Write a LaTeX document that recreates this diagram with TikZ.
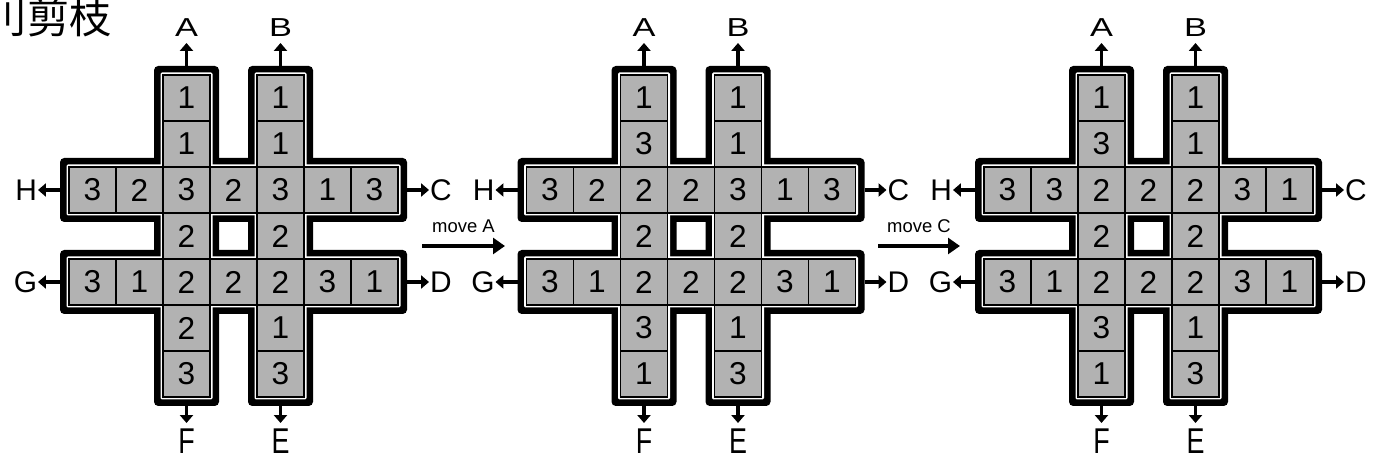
\documentclass[tikz,border=0pt]{standalone}
\usepackage{fontspec}
\setmainfont{Liberation Sans}
\setsansfont{Liberation Sans}
\newfontfamily\cjk{Noto Sans CJK SC}
\usetikzlibrary{arrows.meta, positioning}

\begin{document}
\begin{tikzpicture}[
    x=0.02cm, y=-0.02cm,
    font=\sffamily,
    stripblack/.style={fill=black, rounded corners=2.4pt},
    stripwhite/.style={fill=white, rounded corners=0.8pt},
    cellbox/.style={
        rectangle, draw=black, line width=0.6pt, fill=black!30,
        minimum width=0.94cm, minimum height=0.92cm,
        inner sep=0pt, font=\sffamily\fontsize{18}{18}\selectfont
    },
    exitlab/.style={inner sep=0pt, outer sep=0pt, font=\sffamily\fontsize{17}{17}\selectfont},
    movelab/.style={inner sep=0pt, font=\sffamily\fontsize{10.5}{10.5}\selectfont},
    exitarrow/.style={-{Triangle[length=4.5pt, width=7.4pt]}, line width=2pt, shorten >=0.12cm},
    sidearrow/.style={exitarrow, shorten >=0.02cm},
    movearrow/.style={-{Triangle[length=6.8pt, width=9pt]}, line width=2.2pt}
]
\useasboundingbox (0,0) rectangle (1373,465);

\node (title) [anchor=west, inner sep=0pt, font=\cjk\fontsize{24}{24}\selectfont] at (2,17) {\makebox[0.6em][r]{刂}剪枝};

% three boards: left x / number / row H / row G / column A / column B
\foreach \bx/\bn/\hrow/\grow/\acol/\bcol in {69/1/{3,2,3,2,3,1,3}/{3,1,2,2,2,3,1}/{0/1,1/1,3/2,5/2,6/3}/{0/1,1/1,3/2,5/1,6/3},
    526.5/2/{3,2,2,2,3,1,3}/{3,1,2,2,2,3,1}/{0/1,1/3,3/2,5/3,6/1}/{0/1,1/1,3/2,5/1,6/3},
    984/3/{3,3,2,2,2,3,1}/{3,1,2,2,2,3,1}/{0/1,1/3,3/2,5/3,6/1}/{0/1,1/1,3/2,5/1,6/3}}{
\begin{scope}[shift={(\bx,75)}]
    % thick black band, then the thin white line
    \foreach \xa/\ya/\xb/\yb in {0/92/329/138, 0/184/329/230, 94/0/141/322, 188/0/235/322}
        \fill[stripblack] (\xa-9,\ya-9) rectangle (\xb+9,\yb+9);
    \foreach \xa/\ya/\xb/\yb in {0/92/329/138, 0/184/329/230, 94/0/141/322, 188/0/235/322}
        \fill[stripwhite] (\xa-2.5,\ya-2.5) rectangle (\xb+2.5,\yb+2.5);
    % cells
    \foreach \v [count=\c from 0] in \hrow
        \node (b\bn-2-\c) [cellbox] at (47*\c+23.5,115) {\v};
    \foreach \v [count=\c from 0] in \grow
        \node (b\bn-4-\c) [cellbox] at (47*\c+23.5,207) {\v};
    \foreach \r/\v in \acol
        \node (b\bn-\r-2) [cellbox] at (117.5,46*\r+23) {\v};
    \foreach \r/\v in \bcol
        \node (b\bn-\r-4) [cellbox] at (211.5,46*\r+23) {\v};
    % exits
    \coordinate (b\bn-An) at (117.5,-9);
    \coordinate (b\bn-Bn) at (211.5,-9);
    \coordinate (b\bn-Ce) at (338,115);
    \coordinate (b\bn-De) at (338,207);
    \coordinate (b\bn-Es) at (211.5,331);
    \coordinate (b\bn-Fs) at (117.5,331);
    \coordinate (b\bn-Gw) at (-9,207);
    \coordinate (b\bn-Hw) at (-9,115);
    \node (b\bn-A) [exitlab, above=0.58cm of b\bn-An] {\scalebox{1.15}[.87]{A}};
    \node (b\bn-B) [exitlab, above=0.58cm of b\bn-Bn] {\scalebox{1.15}[.87]{B}};
    \node (b\bn-C) [exitlab, right=0.46cm of b\bn-Ce] {C};
    \node (b\bn-D) [exitlab, right=0.46cm of b\bn-De] {D};
    \node (b\bn-E) [exitlab, below=0.46cm of b\bn-Es] {\scalebox{.9}[1.2]{E}};
    \node (b\bn-F) [exitlab, below=0.46cm of b\bn-Fs] {\scalebox{.9}[1.2]{F}};
    \node (b\bn-G) [exitlab, left=0.46cm of b\bn-Gw] {G};
    \node (b\bn-H) [exitlab, left=0.46cm of b\bn-Hw] {H};
    \draw [exitarrow] (b\bn-An)--(b\bn-A);
    \draw [exitarrow] (b\bn-Bn)--(b\bn-B);
    \draw [sidearrow] (b\bn-Ce)--(b\bn-C);
    \draw [sidearrow] (b\bn-De)--(b\bn-D);
    \draw [exitarrow] (b\bn-Es)--(b\bn-E);
    \draw [exitarrow] (b\bn-Fs)--(b\bn-F);
    \draw [sidearrow] (b\bn-Gw)--(b\bn-G);
    \draw [sidearrow] (b\bn-Hw)--(b\bn-H);
\end{scope}
}

% moves between the boards
\coordinate (mv1s) at (422,246);
\coordinate (mv1e) at (505,246);
\coordinate (mv2s) at (878,246);
\coordinate (mv2e) at (960,246);
\draw [movearrow] (mv1s)--node (mv1lab) [movelab, above=0.22cm] {move A} (mv1e);
\draw [movearrow] (mv2s)--node (mv2lab) [movelab, above=0.22cm] {move C} (mv2e);
\end{tikzpicture}
\end{document}
